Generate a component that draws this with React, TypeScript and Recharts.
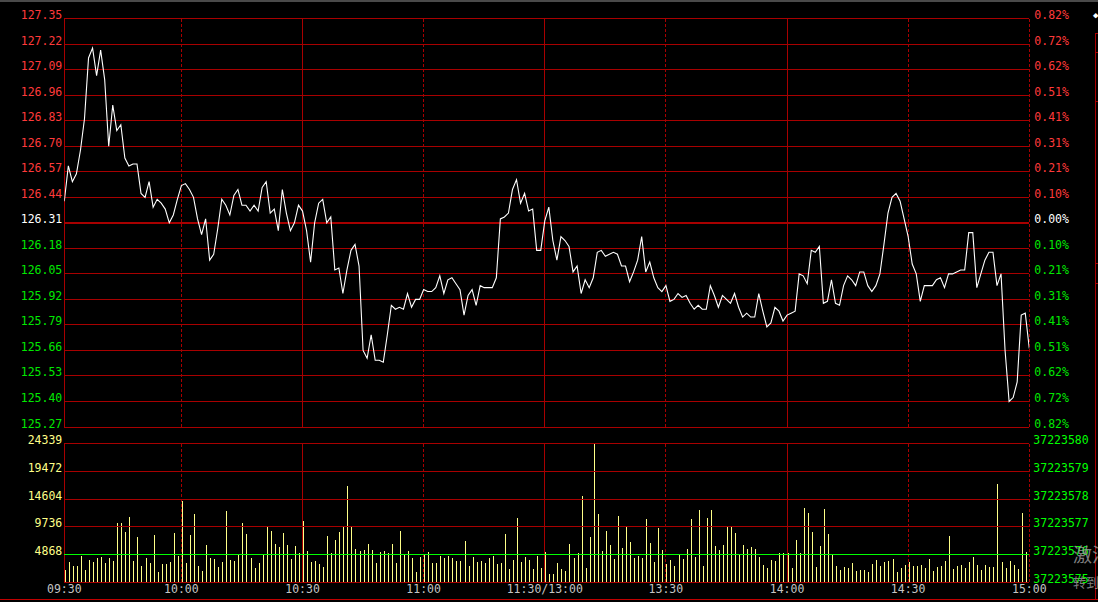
import React from 'react';
import { ComposedChart, Line, Bar, XAxis, YAxis, ReferenceLine } from 'recharts';

// ---------- data ----------
const PRE_CLOSE = 126.31;

const priceValues = [
  126.42, 126.60, 126.52, 126.56, 126.68, 126.84, 127.15, 127.20, 127.06, 127.19,
  127.04, 126.70, 126.91, 126.78, 126.81, 126.64, 126.60, 126.61, 126.61, 126.46,
  126.44, 126.52, 126.39, 126.43, 126.41, 126.38, 126.31, 126.35, 126.43, 126.50,
  126.51, 126.48, 126.44, 126.33, 126.25, 126.33, 126.12, 126.15, 126.28, 126.43,
  126.40, 126.35, 126.45, 126.48, 126.40, 126.40, 126.37, 126.40, 126.37, 126.49,
  126.52, 126.36, 126.38, 126.27, 126.48, 126.36, 126.27, 126.31, 126.40, 126.37,
  126.27, 126.11, 126.31, 126.41, 126.43, 126.31, 126.34, 126.07, 126.08, 125.95,
  126.07, 126.17, 126.20, 126.09, 125.66, 125.62, 125.74, 125.61, 125.61, 125.60,
  125.74, 125.89, 125.87, 125.88, 125.87, 125.95, 125.88, 125.92, 125.92, 125.97,
  125.96, 125.96, 125.98, 126.04, 125.95, 126.02, 126.03, 126.00, 125.97, 125.84,
  125.94, 125.97, 125.89, 125.99, 125.98, 125.98, 125.98, 126.03, 126.33, 126.34,
  126.36, 126.48, 126.53, 126.41, 126.46, 126.37, 126.38, 126.17, 126.17, 126.32,
  126.39, 126.22, 126.12, 126.24, 126.22, 126.19, 126.06, 126.09, 125.95, 126.02,
  125.98, 126.03, 126.16, 126.17, 126.14, 126.15, 126.16, 126.15, 126.09, 126.09,
  126.01, 126.06, 126.12, 126.24, 126.06, 126.11, 126.03, 125.98, 125.96, 125.99,
  125.91, 125.92, 125.95, 125.93, 125.94, 125.90, 125.87, 125.89, 125.87, 125.87,
  125.99, 125.94, 125.88, 125.94, 125.92, 125.90, 125.95, 125.88, 125.83, 125.85,
  125.83, 125.83, 125.95, 125.86, 125.78, 125.80, 125.88, 125.86, 125.81, 125.84,
  125.85, 125.86, 126.05, 126.04, 126.00, 126.17, 126.16, 126.19, 125.90, 125.91,
  126.02, 125.90, 125.89, 125.99, 126.04, 126.02, 125.99, 126.06, 126.06, 125.99,
  125.96, 125.99, 126.05, 126.20, 126.36, 126.44, 126.46, 126.42, 126.33, 126.24,
  126.10, 126.05, 125.91, 125.99, 125.99, 125.99, 126.02, 126.03, 125.98, 126.05,
  126.05, 126.06, 126.07, 126.07, 126.26, 126.26, 125.98, 126.05, 126.12, 126.16,
  126.16, 125.99, 126.05, 125.66, 125.40, 125.42, 125.50, 125.84, 125.85, 125.67,
];

const volumeValues = [
  2111, 3578, 2874, 2874, 4575, 2111, 3871, 3519, 4223, 4399,
  3402, 4223, 3695, 10440, 10440, 8798, 11437, 3695, 7918, 2815,
  4223, 3402, 8270, 1760, 3226, 3226, 3578, 8622, 4575, 14252,
  3402, 8270, 11965, 2815, 1953, 6479, 4185, 4000, 2573, 3565,
  12431, 3875, 3689, 4805, 10323, 8401, 4185, 2449, 3284, 4751,
  9619, 8973, 6686, 6100, 8563, 6510, 4047, 6334, 5044, 10733,
  5454, 3460, 3695, 3167, 2698, 8094, 5044, 7390, 8798, 9677,
  16891, 9853, 5806, 5454, 5630, 6686, 5630, 3284, 5220, 5454,
  5044, 6686, 3284, 8973, 4751, 5454, 4281, 1760, 4399, 4751,
  5220, 3284, 3284, 4575, 4281, 4575, 4164, 3695, 3695, 7214,
  2815, 4340, 3460, 3695, 3284, 4281, 4575, 3167, 3284, 8446,
  2287, 3871, 11202, 3519, 4340, 3871, 2287, 4575, 2463, 5220,
  1408, 1408, 3284, 2287, 1935, 6686, 4281, 5044, 15132, 2463,
  7918, 24339, 11965, 5454, 8973, 6510, 4047, 11613, 5982, 9677,
  7038, 4281, 4575, 4281, 11085, 6862, 3578, 9501, 5630, 3167,
  3871, 2815, 4751, 4047, 5806, 11085, 4457, 12668, 2815, 11261,
  12668, 6334, 5630, 6510, 9677, 9677, 8622, 4751, 6510, 5806,
  6158, 5806, 4457, 2991, 2522, 3871, 3695, 5044, 5044, 5044,
  2522, 7390, 5044, 13020, 12199, 8798, 2698, 6334, 12844, 8504,
  4751, 2874, 2111, 2581, 2522, 3284, 1935, 2111, 2111, 1760,
  3167, 3871, 2757, 3519, 3754, 4047, 1760, 2463, 2933, 3519,
  2815, 2815, 2933, 2463, 4047, 1935, 2639, 2815, 3695, 8094,
  2287, 2815, 2933, 2463, 3519, 4399, 2933, 2111, 2933, 2639,
  2639, 17243, 3519, 2463, 3695, 2933, 2287, 12141, 5279, 8094,
];

const priceTicks = [
  127.35, 127.22, 127.09, 126.96, 126.83, 126.70, 126.57, 126.44, 126.31,
  126.18, 126.05, 125.92, 125.79, 125.66, 125.53, 125.40, 125.27,
];
const pctLabels = [
  '0.82%', '0.72%', '0.62%', '0.51%', '0.41%', '0.31%', '0.21%', '0.10%', '0.00%',
  '0.10%', '0.21%', '0.31%', '0.41%', '0.51%', '0.62%', '0.72%', '0.82%',
];
const volTicks = [0, 4868, 9736, 14604, 19472, 24339];
const volLeftLabels = ['', '4868', '9736', '14604', '19472', '24339'];
const volRightLabels = ['37223575', '37223576', '37223577', '37223578', '37223579', '37223580'];
const timeTicks = [1, 30, 60, 90, 120, 150, 180, 210, 240];
const timeLabels = ['09:30', '10:00', '10:30', '11:00', '11:30/13:00', '13:30', '14:00', '14:30', '15:00'];
const solidMinutes = [1, 60, 120, 180];
const dashedMinutes = [30, 90, 150, 210, 240];

const priceData = priceValues.map((p, i) => ({ t: i + 1, price: p }));
const volumeData = volumeValues.map((v, i) => ({ t: i + 1, vol: v }));

// ---------- styles ----------
const FONT = '"DejaVu Sans Mono", "Liberation Mono", monospace';
const FS = 11.5;
const GRID = '#a80000';
const RED = '#ff3a3a';
const GREEN = '#00e800';
const WHITE = '#ffffff';
const VOL_YELLOW = '#ffff88';
const AXIS_GRAY = '#c4c4c4';

const priceColor = (v: number) =>
  v > PRE_CLOSE + 1e-6 ? RED : v < PRE_CLOSE - 1e-6 ? GREEN : WHITE;

const findIdx = (arr: number[], v: number) => {
  let best = 0;
  for (let i = 0; i < arr.length; i++) if (Math.abs(arr[i] - v) < Math.abs(arr[best] - v)) best = i;
  return best;
};

const LeftPriceTick = (props: any) => {
  const { x, y, payload } = props;
  const v = payload.value as number;
  return (
    <text x={x} y={y + 0.5} textAnchor="end" fill={priceColor(v)} fontFamily={FONT} fontSize={FS}>
      {v.toFixed(2)}
    </text>
  );
};

const RightPctTick = (props: any) => {
  const { x, y, payload } = props;
  const v = payload.value as number;
  return (
    <text x={x} y={y + 0.5} textAnchor="start" fill={priceColor(v)} fontFamily={FONT} fontSize={FS}>
      {pctLabels[findIdx(priceTicks, v)]}
    </text>
  );
};

const LeftVolTick = (props: any) => {
  const { x, y, payload } = props;
  return (
    <text x={x} y={y + 0.5} textAnchor="end" fill={VOL_YELLOW} fontFamily={FONT} fontSize={FS}>
      {volLeftLabels[findIdx(volTicks, payload.value)]}
    </text>
  );
};

const RightVolTick = (props: any) => {
  const { x, y, payload } = props;
  return (
    <text x={x} y={y + 0.5} textAnchor="start" fill="#00ff00" fontFamily={FONT} fontSize={FS}>
      {volRightLabels[findIdx(volTicks, payload.value)]}
    </text>
  );
};

const TimeTick = (props: any) => {
  const { x, y, payload } = props;
  return (
    <text x={x} y={y + 10.5} textAnchor="middle" fill={AXIS_GRAY} fontFamily={FONT} fontSize={FS}>
      {timeLabels[findIdx(timeTicks, payload.value)]}
    </text>
  );
};

// 1px crisp volume stick, placed at the column the library computed
const VolumeStick = (props: any) => {
  const { x, y, width, height, fill } = props;
  if (!height || height <= 0) return null;
  const col = Math.round(x + width / 2);
  return <rect x={col} y={Math.round(y)} width={1} height={Math.round(y + height) - Math.round(y)} fill={fill} shapeRendering="crispEdges" />;
};

const verticalLines = (yAxisId: string) => [
  ...solidMinutes.map((m) => (
    <ReferenceLine key={'vs' + m} x={m} yAxisId={yAxisId} stroke={GRID} strokeWidth={1} shapeRendering="crispEdges" />
  )),
  ...dashedMinutes.map((m) => (
    <ReferenceLine key={'vd' + m} x={m} yAxisId={yAxisId} stroke={GRID} strokeWidth={1} strokeDasharray="3 2" shapeRendering="crispEdges" />
  )),
];

export default function App() {
  return (
    <div
      style={{
        position: 'fixed',
        left: 0,
        top: 0,
        width: 1098,
        height: 602,
        background: '#000',
        overflow: 'hidden',
      }}
    >
      <div style={{ position: 'absolute', left: 0, top: 0, width: 1098, height: 2, background: '#4a4a4a' }} />

      {/* price panel */}
      <div style={{ position: 'absolute', left: 0, top: 0 }}>
        <ComposedChart width={1098} height={440} data={priceData} margin={{ top: 18.7, right: 0, bottom: 13, left: 0 }}>
          <XAxis dataKey="t" type="number" domain={[1, 240]} allowDataOverflow hide />
          <YAxis
            yAxisId="p"
            orientation="left"
            width={64.3}
            domain={[125.27, 127.35]}
            allowDataOverflow
            ticks={priceTicks}
            interval={0}
            tickSize={0}
            tickMargin={2}
            axisLine={false}
            tickLine={false}
            tick={<LeftPriceTick />}
          />
          <YAxis
            yAxisId="pr"
            orientation="right"
            width={68.7}
            domain={[125.27, 127.35]}
            allowDataOverflow
            ticks={priceTicks}
            interval={0}
            tickSize={0}
            tickMargin={5}
            axisLine={false}
            tickLine={false}
            tick={<RightPctTick />}
          />
          {priceTicks.map((v) => (
            <ReferenceLine
              key={'h' + v}
              y={v}
              yAxisId="p"
              stroke={GRID}
              strokeWidth={v === PRE_CLOSE ? 2 : 1}
              shapeRendering="crispEdges"
            />
          ))}
          {verticalLines('p')}
          <Line
            yAxisId="p"
            dataKey="price"
            type="linear"
            stroke="#ffffff"
            strokeWidth={1.1}
            dot={false}
            activeDot={false}
            isAnimationActive={false}
          />
        </ComposedChart>
      </div>

      {/* volume panel */}
      <div style={{ position: 'absolute', left: 0, top: 430 }}>
        <ComposedChart width={1098} height={172} data={volumeData} margin={{ top: 13.7, right: 0, bottom: 0, left: 0 }}>
          <XAxis
            dataKey="t"
            type="number"
            domain={[1, 240]}
            allowDataOverflow
            ticks={timeTicks}
            interval={0}
            height={20}
            tickSize={0}
            tickMargin={0}
            axisLine={false}
            tickLine={false}
            tick={<TimeTick />}
          />
          <YAxis
            yAxisId="v"
            orientation="left"
            width={64.3}
            domain={[0, 24339]}
            allowDataOverflow
            ticks={volTicks}
            interval={0}
            tickSize={0}
            tickMargin={2}
            axisLine={false}
            tickLine={false}
            tick={<LeftVolTick />}
          />
          <YAxis
            yAxisId="vr"
            orientation="right"
            width={68.7}
            domain={[0, 24339]}
            allowDataOverflow
            ticks={volTicks}
            interval={0}
            tickSize={0}
            tickMargin={4}
            axisLine={false}
            tickLine={false}
            tick={<RightVolTick />}
          />
          {volTicks.filter((v) => v !== 4868).map((v) => (
            <ReferenceLine key={'vh' + v} y={v} yAxisId="v" stroke={GRID} strokeWidth={1} shapeRendering="crispEdges" />
          ))}
          {verticalLines('v')}
          <Bar yAxisId="v" dataKey="vol" fill={VOL_YELLOW} barSize={1} shape={<VolumeStick />} isAnimationActive={false} />
          <ReferenceLine y={4868} yAxisId="v" stroke="#00ff00" strokeWidth={1} shapeRendering="crispEdges" />
        </ComposedChart>
      </div>

      {/* bottom rule */}
      <div style={{ position: 'absolute', left: 0, top: 599, width: 1098, height: 1, background: '#c00000' }} />

      {/* right-edge fragments of neighbouring UI */}
      <div style={{ position: 'absolute', left: 1095, top: 33, width: 1, height: 566, background: GRID }} />
      {[33, 52, 101, 263, 283].map((t) => (
        <div key={t} style={{ position: 'absolute', left: 1095, top: t, width: 4, height: 1, background: GRID }} />
      ))}
      <div style={{ position: 'absolute', left: 1093, top: 10, color: '#fff', fontSize: 9, fontFamily: FONT }}>◆</div>
      <div
        style={{
          position: 'absolute',
          left: 1073,
          top: 543,
          color: 'rgba(160,160,160,0.8)',
          fontSize: 19,
          fontFamily: '"Noto Sans CJK SC", sans-serif',
          whiteSpace: 'nowrap',
          lineHeight: '22px',
        }}
      >
        激活 Windows
      </div>
      <div
        style={{
          position: 'absolute',
          left: 1073,
          top: 574,
          color: 'rgba(160,160,160,0.8)',
          fontSize: 13,
          fontFamily: '"Noto Sans CJK SC", sans-serif',
          whiteSpace: 'nowrap',
          lineHeight: '16px',
        }}
      >
        转到设置以激活
      </div>
    </div>
  );
}
